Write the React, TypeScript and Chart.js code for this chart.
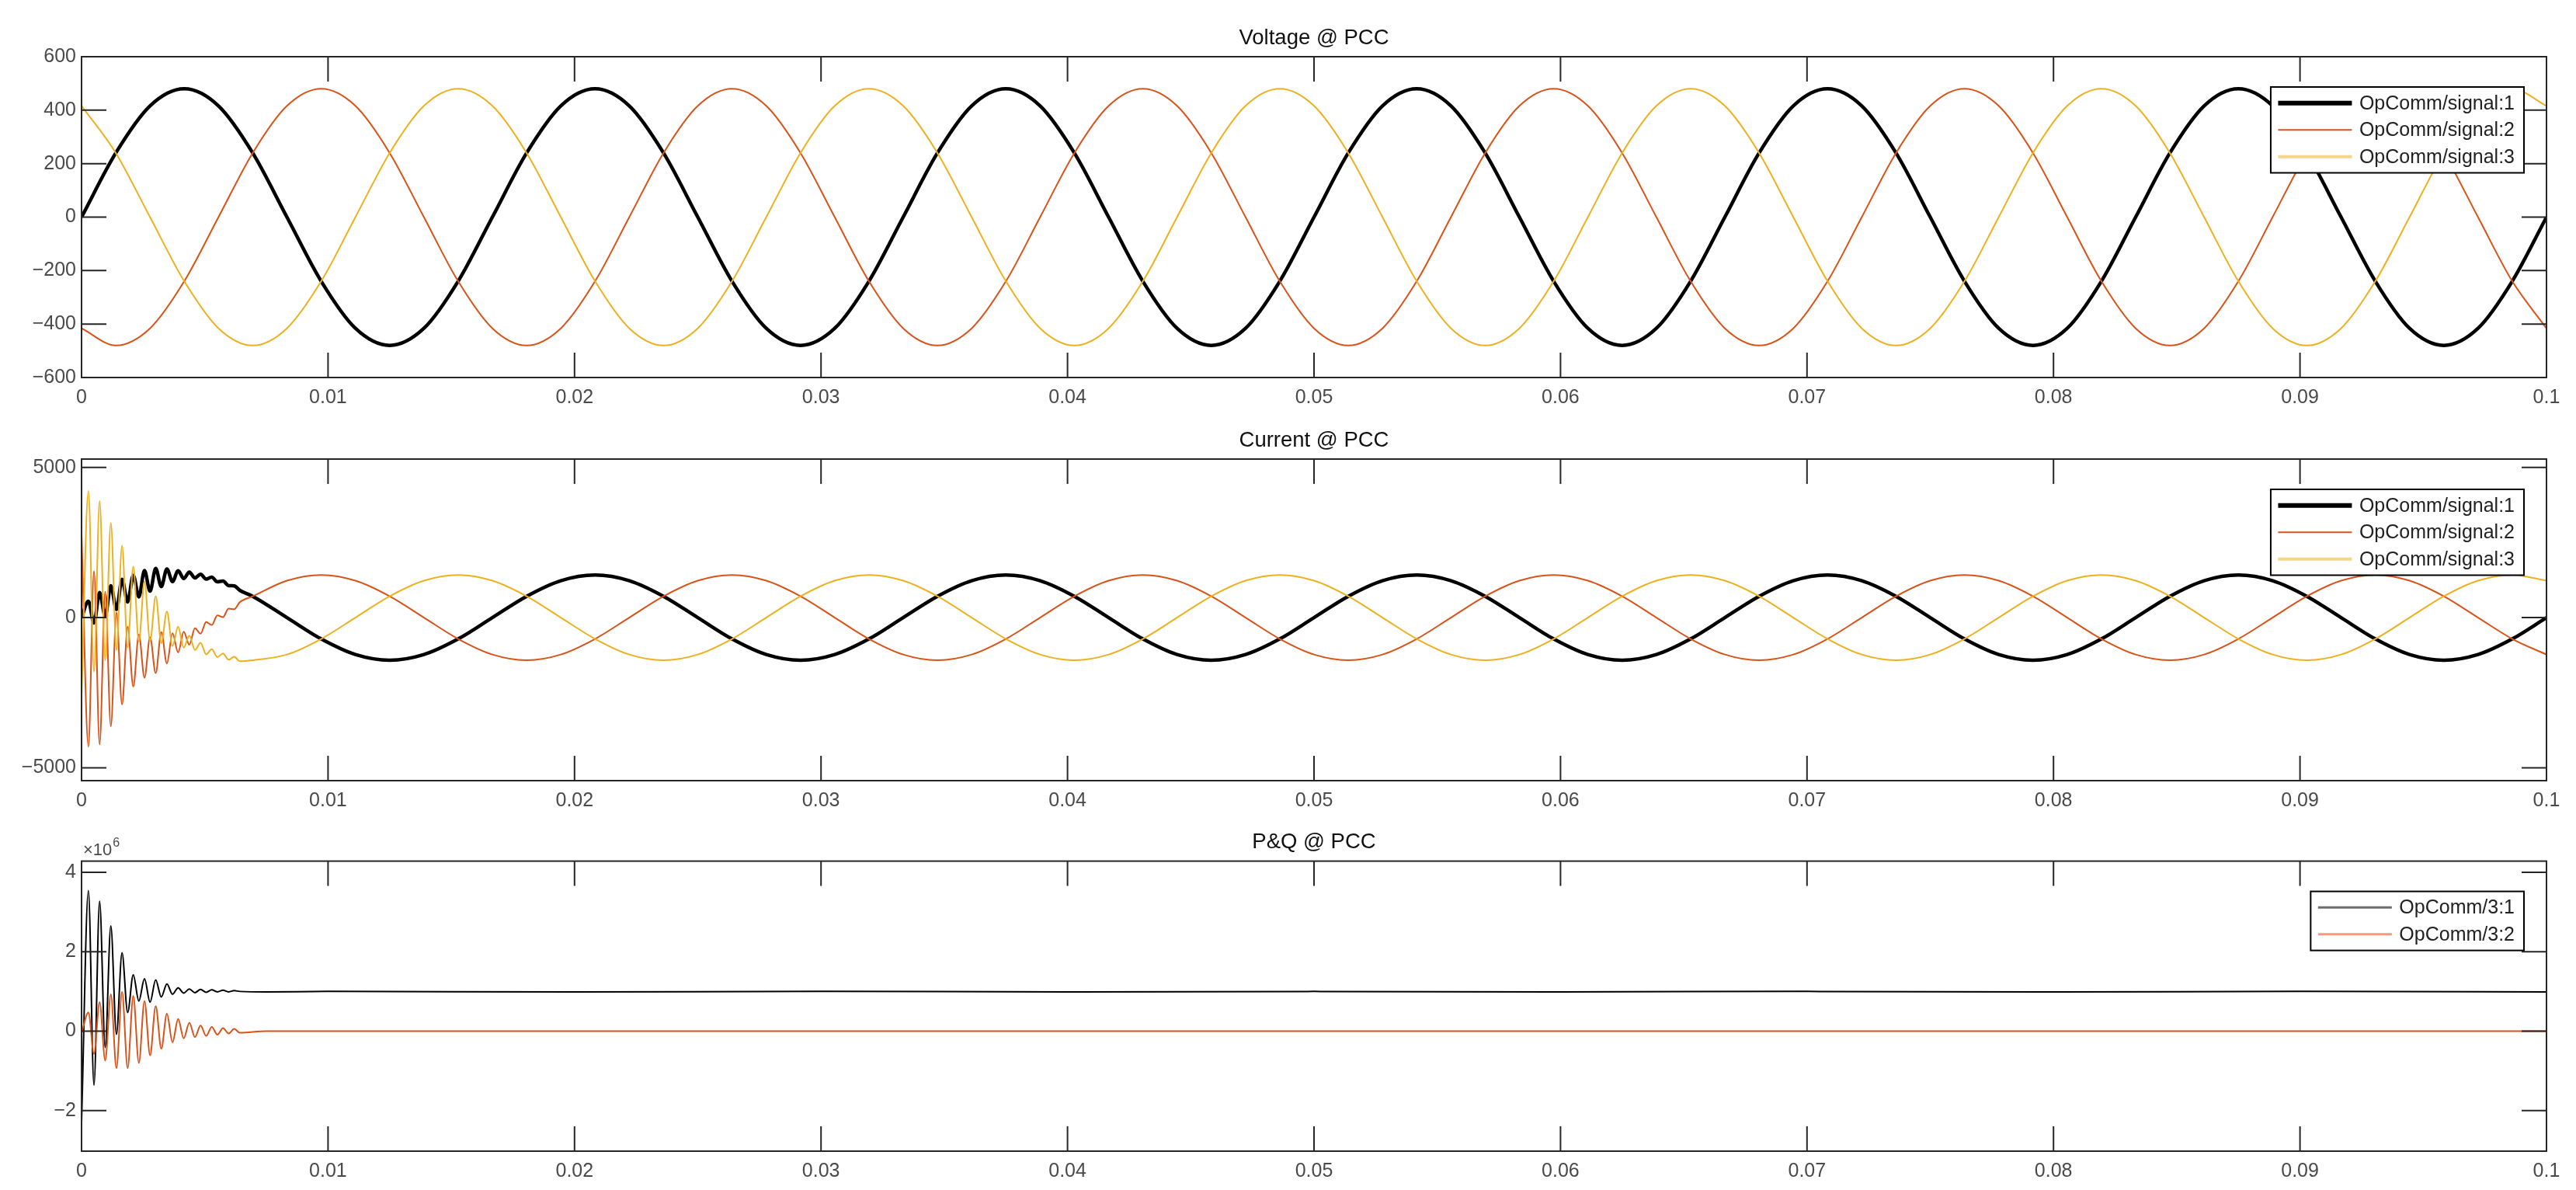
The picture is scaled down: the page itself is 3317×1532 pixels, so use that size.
import React, { useEffect, useRef } from "react";
import { Chart, registerables } from "chart.js";

Chart.register(...registerables);

// ---------------- DATA ----------------
const PANEL_TITLES = ["Voltage @ PCC", "Current @ PCC", "P&Q @ PCC"];
const SIGNAL_LABELS = ["OpComm/signal:1", "OpComm/signal:2", "OpComm/signal:3"];
const PQ_LABELS = ["OpComm/3:1", "OpComm/3:2"];

const X_TICKS = [0, 0.01, 0.02, 0.03, 0.04, 0.05, 0.06, 0.07, 0.08, 0.09, 0.1];
const X_TICK_LABELS = ["0", "0.01", "0.02", "0.03", "0.04", "0.05", "0.06", "0.07", "0.08", "0.09", "0.1"];

const VOLT_Y_TICKS = [-600, -400, -200, 0, 200, 400, 600];
const VOLT_Y_LABELS = ["\u2212600", "\u2212400", "\u2212200", "0", "200", "400", "600"];
const CURR_Y_TICKS = [-5000, 0, 5000];
const CURR_Y_LABELS = ["\u22125000", "0", "5000"];
const PQ_Y_TICKS = [-2, 0, 2, 4];
const PQ_Y_LABELS = ["\u22122", "0", "2", "4"];
const PQ_EXPONENT = "6";

// time in milliseconds
const VOLT_TIME_MS = [
  0, 1.389, 2.778, 4.167, 5.556, 6.944, 8.333, 9.722, 11.111, 12.5, 13.889, 15.278,
  16.667, 18.056, 19.444, 20.833, 22.222, 23.611, 25, 26.389, 27.778, 29.167, 30.556, 31.944,
  33.333, 34.722, 36.111, 37.5, 38.889, 40.278, 41.667, 43.056, 44.444, 45.833, 47.222, 48.611,
  50, 51.389, 52.778, 54.167, 55.556, 56.944, 58.333, 59.722, 61.111, 62.5, 63.889, 65.278,
  66.667, 68.056, 69.444, 70.833, 72.222, 73.611, 75, 76.389, 77.778, 79.167, 80.556, 81.944,
  83.333, 84.722, 86.111, 87.5, 88.889, 90.278, 91.667, 93.056, 94.444, 95.833, 97.222, 98.611,
  100,
];
const VOLT_SIGNAL_1 = [
  0, 240, 416, 480, 416, 240, 0, -240, -416, -480, -416, -240,
  0, 240, 416, 480, 416, 240, 0, -240, -416, -480, -416, -240,
  0, 240, 416, 480, 416, 240, 0, -240, -416, -480, -416, -240,
  0, 240, 416, 480, 416, 240, 0, -240, -416, -480, -416, -240,
  0, 240, 416, 480, 416, 240, 0, -240, -416, -480, -416, -240,
  0, 240, 416, 480, 416, 240, 0, -240, -416, -480, -416, -240,
  0,
];
const VOLT_SIGNAL_2 = [
  -416, -480, -416, -240, 0, 240, 416, 480, 416, 240, 0, -240,
  -416, -480, -416, -240, 0, 240, 416, 480, 416, 240, 0, -240,
  -416, -480, -416, -240, 0, 240, 416, 480, 416, 240, 0, -240,
  -416, -480, -416, -240, 0, 240, 416, 480, 416, 240, 0, -240,
  -416, -480, -416, -240, 0, 240, 416, 480, 416, 240, 0, -240,
  -416, -480, -416, -240, 0, 240, 416, 480, 416, 240, 0, -240,
  -416,
];
const VOLT_SIGNAL_3 = [
  416, 240, 0, -240, -416, -480, -416, -240, 0, 240, 416, 480,
  416, 240, 0, -240, -416, -480, -416, -240, 0, 240, 416, 480,
  416, 240, 0, -240, -416, -480, -416, -240, 0, 240, 416, 480,
  416, 240, 0, -240, -416, -480, -416, -240, 0, 240, 416, 480,
  416, 240, 0, -240, -416, -480, -416, -240, 0, 240, 416, 480,
  416, 240, 0, -240, -416, -480, -416, -240, 0, 240, 416, 480,
  416,
];

const CURR_TIME_MS = [
  0, 0.278, 0.505, 0.733, 0.96, 1.188, 1.415, 1.643, 1.87, 2.098, 2.325, 2.553, 2.78, 3.008,
  3.235, 3.463, 3.69, 3.918, 4.145, 4.373, 4.6, 4.828, 5.055, 5.283, 5.51, 5.738, 5.965, 6.193,
  6.42,
  6.944, 8.333, 9.722, 11.111, 12.5, 13.889, 15.278,
  16.667, 18.056, 19.444, 20.833, 22.222, 23.611, 25, 26.389, 27.778, 29.167, 30.556, 31.944,
  33.333, 34.722, 36.111, 37.5, 38.889, 40.278, 41.667, 43.056, 44.444, 45.833, 47.222, 48.611,
  50, 51.389, 52.778, 54.167, 55.556, 56.944, 58.333, 59.722, 61.111, 62.5, 63.889, 65.278,
  66.667, 68.056, 69.444, 70.833, 72.222, 73.611, 75, 76.389, 77.778, 79.167, 80.556, 81.944,
  83.333, 84.722, 86.111, 87.5, 88.889, 90.278, 91.667, 93.056, 94.444, 95.833, 97.222, 98.611,
  100,
];
const CURR_SIGNAL_1 = [
  0, 548, -181, 837, 53, 1065, 272, 1274, 520, 1409, 691, 1565, 880, 1637,
  1034, 1620, 1197, 1564, 1300, 1516, 1321, 1446, 1281, 1346, 1191, 1218, 1066, 1056,
  908,
  710, 0, -710, -1230, -1420, -1230, -710,
  0, 710, 1230, 1420, 1230, 710, 0, -710, -1230, -1420, -1230, -710,
  0, 710, 1230, 1420, 1230, 710, 0, -710, -1230, -1420, -1230, -710,
  0, 710, 1230, 1420, 1230, 710, 0, -710, -1230, -1420, -1230, -710,
  0, 710, 1230, 1420, 1230, 710, 0, -710, -1230, -1420, -1230, -710,
  0, 710, 1230, 1420, 1230, 710, 0, -710, -1230, -1420, -1230, -710,
  0,
];
const CURR_SIGNAL_2 = [
  2800, -4300, 1550, -4224, 860, -3620, 170, -2890, -300, -2300, -560, -2000, -650, -1850,
  -480, -1530, -520, -1164, -470, -905, -350, -535, -146, -246, 76, 17, 298, 278,
  515,
  710, 1230, 1420, 1230, 710, 0, -710,
  -1230, -1420, -1230, -710, 0, 710, 1230, 1420, 1230, 710, 0, -710,
  -1230, -1420, -1230, -710, 0, 710, 1230, 1420, 1230, 710, 0, -710,
  -1230, -1420, -1230, -710, 0, 710, 1230, 1420, 1230, 710, 0, -710,
  -1230, -1420, -1230, -710, 0, 710, 1230, 1420, 1230, 710, 0, -710,
  -1230, -1420, -1230, -710, 0, 710, 1230, 1420, 1230, 710, 0, -710,
  -1230,
];
const CURR_SIGNAL_3 = [
  -2600, 4220, -1800, 3880, -1420, 3150, -1080, 2390, -990, 1700, -800, 1210, -780, 715,
  -850, 200, -950, -300, -1000, -600, -1080, -840, -1225, -1050, -1317, -1195, -1404, -1303,
  -1453,
  -1420, -1230, -710, 0, 710, 1230, 1420,
  1230, 710, 0, -710, -1230, -1420, -1230, -710, 0, 710, 1230, 1420,
  1230, 710, 0, -710, -1230, -1420, -1230, -710, 0, 710, 1230, 1420,
  1230, 710, 0, -710, -1230, -1420, -1230, -710, 0, 710, 1230, 1420,
  1230, 710, 0, -710, -1230, -1420, -1230, -710, 0, 710, 1230, 1420,
  1230, 710, 0, -710, -1230, -1420, -1230, -710, 0, 710, 1230, 1420,
  1230,
];

const PQ_TIME_MS = [
  0, 0.278, 0.505, 0.733, 0.96, 1.188, 1.415, 1.643, 1.87, 2.098, 2.325, 2.553, 2.78, 3.008,
  3.235, 3.463, 3.69, 3.918, 4.145, 4.373, 4.6, 4.828, 5.055, 5.283, 5.51, 5.738, 5.965, 6.193,
  6.42,
  7.5, 10, 20, 30, 40, 50, 60, 70, 80, 90, 100,
];
// values in units of 10^6
const PQ_SIGNAL_1 = [
  -2.3, 3.54, -1.36, 3.27, -0.41, 2.65, -0.08, 1.97, 0.47, 1.42, 0.76, 1.32, 0.73, 1.29,
  0.86, 1.19, 0.93, 1.09, 0.96, 1.06, 0.97, 1.05, 0.98, 1.04, 0.99, 1.03, 0.99, 1.02,
  1.0,
  0.99, 1.0, 0.99, 1.0, 0.99, 1.0, 0.99, 1.0, 0.99, 1.0, 0.99,
];
const PQ_SIGNAL_2 = [
  -0.05, 0.47, -0.57, 0.73, -0.74, 0.93, -0.93, 0.99, -0.93, 0.89, -0.8, 0.76, -0.61, 0.63,
  -0.44, 0.44, -0.28, 0.31, -0.18, 0.21, -0.15, 0.14, -0.12, 0.11, -0.09, 0.08, -0.06, 0.06,
  -0.04,
  0, 0, 0, 0, 0, 0, 0, 0, 0, 0, 0,
];

// ---------------- STYLE / LAYOUT ----------------
const PAGE_W = 3317;
const PAGE_H = 1532;
const FONT_FAMILY = "'Liberation Sans', Arial, Helvetica, sans-serif";
const AXIS_COLOR = "#262626";
const TICK_TEXT_COLOR = "#4a4a4a";
const TITLE_COLOR = "#111111";
const LEGEND_TEXT_COLOR = "#222222";
const BLACK = "#000000";
const ORANGE = "#D95319";
const YELLOW = "#EDB120";
const Y_AXIS_W = 105;
const RIGHT_PAD = 38;
const TICK_LEN = 32;

type Series = { label: string; time: number[]; values: number[]; color: string; width: number; legendColor: string; legendWidth: number };
type PanelSpec = {
  title: string;
  top: number;
  height: number;
  areaTop: number;
  xAxisH: number;
  yMin: number;
  yMax: number;
  yTicks: number[];
  yLabels: string[];
  series: Series[];
  exponent: string | null;
};

const PANELS: PanelSpec[] = [
  {
    title: PANEL_TITLES[0], top: 0, height: 540, areaTop: 73, xAxisH: 54,
    yMin: -600, yMax: 600, yTicks: VOLT_Y_TICKS, yLabels: VOLT_Y_LABELS, exponent: null,
    series: [
      { label: SIGNAL_LABELS[0], time: VOLT_TIME_MS, values: VOLT_SIGNAL_1, color: BLACK, width: 4.5, legendColor: BLACK, legendWidth: 6 },
      { label: SIGNAL_LABELS[1], time: VOLT_TIME_MS, values: VOLT_SIGNAL_2, color: ORANGE, width: 2, legendColor: ORANGE, legendWidth: 2 },
      { label: SIGNAL_LABELS[2], time: VOLT_TIME_MS, values: VOLT_SIGNAL_3, color: YELLOW, width: 2, legendColor: "#F6D48A", legendWidth: 4 },
    ],
  },
  {
    title: PANEL_TITLES[1], top: 540, height: 520, areaTop: 51, xAxisH: 55,
    yMin: -5430, yMax: 5280, yTicks: CURR_Y_TICKS, yLabels: CURR_Y_LABELS, exponent: null,
    series: [
      { label: SIGNAL_LABELS[0], time: CURR_TIME_MS, values: CURR_SIGNAL_1, color: BLACK, width: 4.5, legendColor: BLACK, legendWidth: 6 },
      { label: SIGNAL_LABELS[1], time: CURR_TIME_MS, values: CURR_SIGNAL_2, color: ORANGE, width: 2, legendColor: ORANGE, legendWidth: 2 },
      { label: SIGNAL_LABELS[2], time: CURR_TIME_MS, values: CURR_SIGNAL_3, color: YELLOW, width: 2, legendColor: "#F6D48A", legendWidth: 4 },
    ],
  },
  {
    title: PANEL_TITLES[2], top: 1060, height: 472, areaTop: 48.6, xAxisH: 50,
    yMin: -3.02, yMax: 4.28, yTicks: PQ_Y_TICKS, yLabels: PQ_Y_LABELS, exponent: PQ_EXPONENT,
    series: [
      { label: PQ_LABELS[0], time: PQ_TIME_MS, values: PQ_SIGNAL_1, color: BLACK, width: 2, legendColor: "#6e6e6e", legendWidth: 3 },
      { label: PQ_LABELS[1], time: PQ_TIME_MS, values: PQ_SIGNAL_2, color: ORANGE, width: 2, legendColor: "#EE9C7C", legendWidth: 3 },
    ],
  },
];

function toPoints(timeMs: number[], values: number[]) {
  return timeMs.map((t, i) => ({ x: t / 1000, y: values[i] }));
}

function makeMatlabPlugin(spec: PanelSpec) {
  return {
    id: "matlabAxes",
    afterDatasetsDraw(chart: any) {
      const { ctx, chartArea } = chart;
      const { left, right, top, bottom } = chartArea;
      const xs = chart.scales.x;
      const ys = chart.scales.y;
      ctx.save();
      ctx.strokeStyle = AXIS_COLOR;
      ctx.lineWidth = 2;
      ctx.beginPath();
      for (const v of X_TICKS) {
        const px = xs.getPixelForValue(v);
        ctx.moveTo(px, bottom);
        ctx.lineTo(px, bottom - TICK_LEN);
        ctx.moveTo(px, top);
        ctx.lineTo(px, top + TICK_LEN);
      }
      for (const v of spec.yTicks) {
        const py = ys.getPixelForValue(v);
        ctx.moveTo(left, py);
        ctx.lineTo(left + TICK_LEN, py);
        ctx.moveTo(right, py);
        ctx.lineTo(right - TICK_LEN, py);
      }
      ctx.stroke();
      ctx.strokeRect(left, top, right - left, bottom - top);
      ctx.restore();
    },
    afterDraw(chart: any) {
      const { ctx, chartArea } = chart;
      const { left, right, top } = chartArea;
      ctx.save();
      // title
      ctx.fillStyle = TITLE_COLOR;
      ctx.font = `27.5px ${FONT_FAMILY}`;
      ctx.textAlign = "center";
      ctx.textBaseline = "middle";
      ctx.fillText(spec.title, (left + right) / 2, top - 24);

      // exponent label
      if (spec.exponent) {
        ctx.fillStyle = TICK_TEXT_COLOR;
        ctx.textAlign = "left";
        ctx.textBaseline = "alphabetic";
        ctx.font = `22px ${FONT_FAMILY}`;
        const base = "\u00D710";
        ctx.fillText(base, left + 2, top - 8);
        const w = ctx.measureText(base).width;
        ctx.font = `16px ${FONT_FAMILY}`;
        ctx.fillText(spec.exponent, left + 2 + w + 1, top - 19);
      }

      // legend
      ctx.font = `25px ${FONT_FAMILY}`;
      let textW = 0;
      for (const s of spec.series) textW = Math.max(textW, ctx.measureText(s.label).width);
      const rowH = 34.5;
      const padV = 3.5;
      const lineStart = 9.5;
      const lineLen = 95;
      const textGap = 9.5;
      const boxW = lineStart + lineLen + textGap + textW + 12;
      const boxH = padV * 2 + rowH * spec.series.length;
      const bx = right - 29 - boxW;
      const by = top + 39;
      ctx.fillStyle = "#ffffff";
      ctx.fillRect(bx, by, boxW, boxH);
      ctx.strokeStyle = "#000000";
      ctx.lineWidth = 2;
      ctx.strokeRect(bx, by, boxW, boxH);
      spec.series.forEach((s, i) => {
        const cy = by + padV + rowH * (i + 0.5);
        ctx.strokeStyle = s.legendColor;
        ctx.lineWidth = s.legendWidth;
        ctx.beginPath();
        ctx.moveTo(bx + lineStart, cy);
        ctx.lineTo(bx + lineStart + lineLen, cy);
        ctx.stroke();
        ctx.fillStyle = LEGEND_TEXT_COLOR;
        ctx.textAlign = "left";
        ctx.textBaseline = "middle";
        ctx.fillText(s.label, bx + lineStart + lineLen + textGap, cy + 1);
      });
      ctx.restore();
    },
  };
}

function buildConfig(spec: PanelSpec): any {
  const n = spec.series.length;
  return {
    type: "line",
    data: {
      datasets: spec.series.map((s, i) => ({
        label: s.label,
        data: toPoints(s.time, s.values),
        borderColor: s.color,
        backgroundColor: s.color,
        borderWidth: s.width,
        pointRadius: 0,
        pointHoverRadius: 0,
        fill: false,
        tension: 0,
        cubicInterpolationMode: "monotone",
        borderJoinStyle: "round",
        clip: 0,
        order: n - i,
      })),
    },
    options: {
      responsive: false,
      maintainAspectRatio: false,
      animation: false,
      events: [],
      parsing: false,
      layout: { padding: { left: 0, right: RIGHT_PAD, top: spec.areaTop, bottom: 0 } },
      plugins: { legend: { display: false }, tooltip: { enabled: false }, title: { display: false } },
      scales: {
        x: {
          type: "linear",
          min: 0,
          max: 0.1,
          grid: { display: false, drawTicks: false },
          border: { display: false },
          afterBuildTicks: (scale: any) => {
            scale.ticks = X_TICKS.map((v) => ({ value: v }));
          },
          afterFit: (scale: any) => {
            scale.height = spec.xAxisH;
          },
          ticks: {
            autoSkip: false,
            maxRotation: 0,
            minRotation: 0,
            padding: 11,
            color: TICK_TEXT_COLOR,
            font: { family: FONT_FAMILY, size: 25 },
            callback: (_v: any, idx: number) => X_TICK_LABELS[idx],
          },
        },
        y: {
          type: "linear",
          min: spec.yMin,
          max: spec.yMax,
          grid: { display: false, drawTicks: false },
          border: { display: false },
          afterBuildTicks: (scale: any) => {
            scale.ticks = spec.yTicks.map((v) => ({ value: v }));
          },
          afterFit: (scale: any) => {
            scale.width = Y_AXIS_W;
          },
          ticks: {
            autoSkip: false,
            padding: 7,
            color: TICK_TEXT_COLOR,
            font: { family: FONT_FAMILY, size: 25 },
            callback: (_v: any, idx: number) => spec.yLabels[idx],
          },
        },
      },
    },
    plugins: [makeMatlabPlugin(spec)],
  };
}

function Panel({ spec }: { spec: PanelSpec }) {
  const ref = useRef<HTMLCanvasElement | null>(null);
  useEffect(() => {
    if (!ref.current) return;
    const chart = new Chart(ref.current, buildConfig(spec));
    return () => chart.destroy();
  }, [spec]);
  return (
    <canvas
      ref={ref}
      width={PAGE_W}
      height={spec.height}
      style={{ position: "absolute", left: 0, top: spec.top, width: PAGE_W, height: spec.height, display: "block" }}
    />
  );
}

export default function App() {
  return (
    <div style={{ position: "absolute", left: 0, top: 0, width: PAGE_W, height: PAGE_H, overflow: "hidden", background: "#ffffff" }}>
      {PANELS.map((p) => (
        <Panel key={p.title} spec={p} />
      ))}
    </div>
  );
}
